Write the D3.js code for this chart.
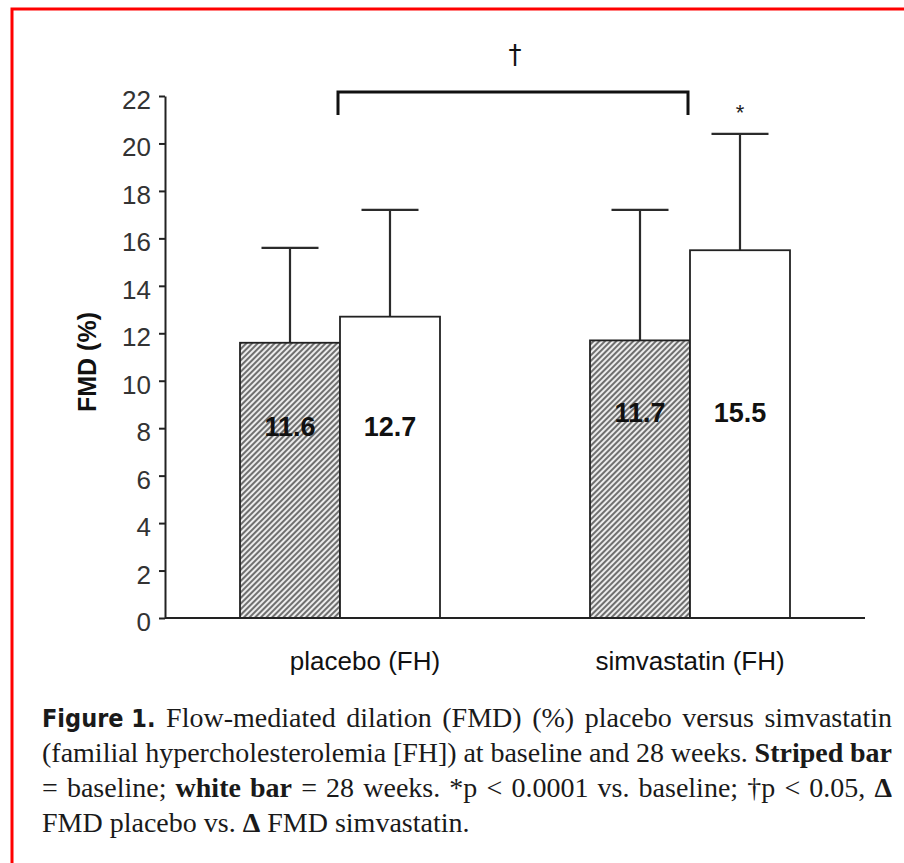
<!DOCTYPE html>
<html>
<head>
<meta charset="utf-8">
<script src="https://cdn.jsdelivr.net/npm/d3@7"></script>
<style>
  html, body { margin: 0; padding: 0; background: #fff; }
  svg { display: block; }
</style>
</head>
<body>
<div id="content"></div>
<script>
/* data */
const groups = ["placebo (FH)", "simvastatin (FH)"];
const series = ["baseline", "28 weeks"];
const baselineMeans = [11.6, 11.7];
const week28Means = [12.7, 15.5];
const baselineSD = [4.0, 5.5];
const week28SD = [4.5, 4.9];
const yTicks = [0, 2, 4, 6, 8, 10, 12, 14, 16, 18, 20, 22];

const captionLines = [
  [["Figure 1.", "fig"], ["Flow-mediated"], ["dilation"], ["(FMD)"], ["(%)"], ["placebo"], ["versus"], ["simvastatin"]],
  [["(familial"], ["hypercholesterolemia"], ["[FH])"], ["at"], ["baseline"], ["and"], ["28"], ["weeks."], ["Striped", "b"], ["bar", "b"]],
  [["="], ["baseline;"], ["white", "b"], ["bar", "b"], ["="], ["28"], ["weeks."], ["*p"], ["<"], ["0.0001"], ["vs."], ["baseline;"], ["\u2020p"], ["<"], ["0.05,"], ["\u0394", "b"]],
  [["FMD"], ["placebo"], ["vs."], ["\u0394", "b"], ["FMD"], ["simvastatin."]]
];

/* layout */
const WIDTH = 904;
const HEIGHT = 863;
const PLOT = {left: 165, right: 865, top: 96, bottom: 618};
const LABEL_DX = [25, 0];
const VALUE_LABEL_Y = [436, 422];
const CAP = 57;

window.onload = () => {
  const svg = d3.select("#content").append("svg")
    .attr("width", WIDTH).attr("height", HEIGHT);

  // red frame (left + top only)
  svg.append("path")
    .attr("d", "M12,863 L12,9 L904,9")
    .attr("fill", "none").attr("stroke", "#f00").attr("stroke-width", 3);

  const defs = svg.append("defs");
  const pat = defs.append("pattern")
    .attr("id", "hatch").attr("patternUnits", "userSpaceOnUse")
    .attr("width", 4).attr("height", 4)
    .attr("patternTransform", "rotate(45)");
  pat.append("rect").attr("width", 4).attr("height", 4).attr("fill", "#ececec");
  pat.append("line").attr("x1", 1).attr("y1", 0).attr("x2", 1).attr("y2", 4)
    .attr("stroke", "#3a3a3a").attr("stroke-width", 1.4);

  const x0 = d3.scaleBand().domain(groups)
    .range([PLOT.left, PLOT.right])
    .paddingInner(0.4286).paddingOuter(0.2143);
  const x1 = d3.scaleBand().domain(series).range([0, x0.bandwidth()]);
  const y = d3.scaleLinear().domain([0, 22]).range([PLOT.bottom, PLOT.top]);

  const rows = [];
  groups.forEach((g, i) => {
    rows.push({group: g, gi: i, series: series[0], mean: baselineMeans[i], sd: baselineSD[i]});
    rows.push({group: g, gi: i, series: series[1], mean: week28Means[i], sd: week28SD[i]});
  });
  const cx = (d) => x0(d.group) + x1(d.series) + x1.bandwidth() / 2;

  // error bars (drawn first so the bars cover the stems)
  const eb = svg.append("g").attr("stroke", "#2b2b2b").attr("stroke-width", 2.2);
  eb.selectAll("line.stem").data(rows).join("line").attr("class", "stem")
    .attr("x1", cx).attr("x2", cx)
    .attr("y1", (d) => y(d.mean)).attr("y2", (d) => y(d.mean + d.sd));
  eb.selectAll("line.cap").data(rows).join("line").attr("class", "cap")
    .attr("x1", (d) => cx(d) - CAP / 2).attr("x2", (d) => cx(d) + CAP / 2)
    .attr("y1", (d) => y(d.mean + d.sd)).attr("y2", (d) => y(d.mean + d.sd));

  // bars
  svg.append("g").selectAll("rect").data(rows).join("rect")
    .attr("x", (d) => x0(d.group) + x1(d.series))
    .attr("y", (d) => y(d.mean))
    .attr("width", x1.bandwidth())
    .attr("height", (d) => y(0) - y(d.mean))
    .attr("fill", (d) => d.series === series[0] ? "url(#hatch)" : "#fff")
    .attr("stroke", "#222").attr("stroke-width", 1.8);

  // value labels inside bars
  svg.append("g").selectAll("text").data(rows).join("text")
    .attr("x", cx)
    .attr("y", (d) => VALUE_LABEL_Y[d.gi])
    .attr("text-anchor", "middle")
    .attr("font-family", "Liberation Sans, Arial, sans-serif")
    .attr("font-weight", "bold").attr("font-size", 27)
    .attr("fill", "#111")
    .text((d) => d.mean.toFixed(1));

  // y axis
  const yAxis = svg.append("g")
    .attr("transform", `translate(${PLOT.left},0)`)
    .call(d3.axisLeft(y).tickValues(yTicks).tickSize(6).tickPadding(8).tickSizeOuter(0));
  yAxis.select(".domain").attr("stroke", "#222").attr("stroke-width", 2);
  yAxis.selectAll(".tick line").attr("stroke", "#222").attr("stroke-width", 2);
  yAxis.selectAll(".tick text")
    .attr("font-family", "Liberation Sans, Arial, sans-serif")
    .attr("font-size", 26).attr("fill", "#333").attr("dy", "0.48em");

  // x axis line
  svg.append("line")
    .attr("x1", PLOT.left).attr("x2", PLOT.right)
    .attr("y1", y(0)).attr("y2", y(0))
    .attr("stroke", "#222").attr("stroke-width", 2.2);

  // category labels
  svg.append("g").selectAll("text").data(groups).join("text")
    .attr("x", (d, i) => x0(d) + x0.bandwidth() / 2 + LABEL_DX[i])
    .attr("y", 670)
    .attr("text-anchor", "middle")
    .attr("font-family", "Liberation Sans, Arial, sans-serif")
    .attr("font-size", 26).attr("fill", "#111")
    .text((d) => d);

  // y label
  svg.append("text")
    .attr("transform", "translate(96,362) rotate(-90)")
    .attr("text-anchor", "middle")
    .attr("font-family", "Liberation Sans, Arial, sans-serif")
    .attr("font-weight", "bold").attr("font-size", 25).attr("fill", "#111")
    .text("FMD (%)");

  // significance bracket between the groups
  const gx = groups.map((g) => x0(g) + x0.bandwidth() / 2 - 2);
  svg.append("path")
    .attr("d", `M${gx[0]},115 L${gx[0]},92 L${gx[1]},92 L${gx[1]},115`)
    .attr("fill", "none").attr("stroke", "#111").attr("stroke-width", 3);
  svg.append("text")
    .attr("x", (gx[0] + gx[1]) / 2 + 2).attr("y", 64)
    .attr("text-anchor", "middle")
    .attr("font-family", "DejaVu Sans, sans-serif")
    .attr("font-size", 26).attr("fill", "#111")
    .text("\u2020");

  // asterisk over simvastatin 28 weeks
  const star = rows[3];
  svg.append("text")
    .attr("x", cx(star)).attr("y", y(star.mean + star.sd) - 14)
    .attr("text-anchor", "middle")
    .attr("font-family", "Liberation Sans, Arial, sans-serif")
    .attr("font-size", 22).attr("fill", "#222")
    .text("*");

  // caption, justified
  const capLeft = 42, capRight = 892, baseY = 727, lineGap = 35;
  captionLines.forEach((words, li) => {
    const g = svg.append("g");
    const nodes = words.map(([w, style]) => {
      const t = g.append("text")
        .attr("y", baseY + li * lineGap)
        .attr("fill", "#1a1a1a")
        .attr("font-size", 28)
        .text(w);
      if (style === "fig") {
        t.attr("font-family", "Liberation Sans Narrow, DejaVu Sans Condensed, Arial Narrow, sans-serif")
          .attr("font-weight", "bold").attr("font-size", 25);
      } else {
        t.attr("font-family", "Liberation Serif, Times New Roman, serif");
        if (style === "b") t.attr("font-weight", "bold");
      }
      return t;
    });
    const widths = nodes.map((t) => t.node().getComputedTextLength());
    const total = d3.sum(widths);
    const last = li === captionLines.length - 1;
    const gap = last ? 7 : (capRight - capLeft - total) / (nodes.length - 1);
    let xpos = capLeft;
    nodes.forEach((t, i) => {
      t.attr("x", xpos);
      xpos += widths[i] + gap;
    });
  });
};
</script>
</body>
</html>
